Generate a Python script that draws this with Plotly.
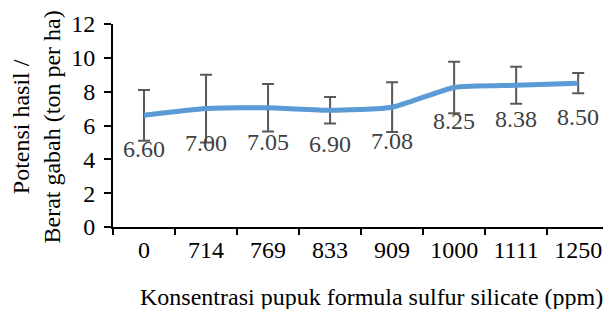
import plotly.graph_objects as go

categories = ["0", "714", "769", "833", "909", "1000", "1111", "1250"]
yield_values = [6.60, 7.00, 7.05, 6.90, 7.08, 8.25, 8.38, 8.50]
error_values = [1.50, 2.00, 1.40, 0.78, 1.47, 1.52, 1.10, 0.60]
value_labels = ["6.60", "7.00", "7.05", "6.90", "7.08", "8.25", "8.38", "8.50"]
y_ticks = [0, 2, 4, 6, 8, 10, 12]

FONT = "Liberation Serif"

fig = go.Figure()
# error bars (drawn first, beneath the line)
fig.add_trace(go.Scatter(
    x=categories, y=yield_values, mode="markers",
    marker=dict(size=0.1, opacity=0),
    error_y=dict(type="data", array=error_values, visible=True,
                 color="#595959", thickness=2, width=6),
    hoverinfo="skip", showlegend=False,
))
fig.add_trace(go.Scatter(
    x=categories, y=yield_values, mode="lines",
    line=dict(color="#5B9BD5", width=5, shape="spline", smoothing=0.5),
    hoverinfo="skip", showlegend=False,
))

for i, (v, t) in enumerate(zip(yield_values, value_labels)):
    fig.add_annotation(x=i, y=v, text=t, showarrow=False, yshift=-34,
                       font=dict(family=FONT, size=24, color="#404040"))

fig.add_annotation(xref="paper", yref="paper", x=0, y=0.5, xshift=-77, yshift=-2,
                   xanchor="center", yanchor="middle", textangle=-90,
                   text="Potensi hasil /<br>Berat gabah (ton per ha)", showarrow=False,
                   font=dict(family=FONT, size=24, color="#000000"))
fig.add_annotation(xref="paper", yref="paper", x=(371 - 113) / 490, y=-(297 - 227) / 203,
                   xanchor="center", yanchor="middle",
                   text="Konsentrasi pupuk formula sulfur silicate (ppm)", showarrow=False,
                   font=dict(family=FONT, size=24, color="#000000"))

fig.update_layout(
    width=603, height=309, autosize=False,
    margin=dict(l=113, r=0, t=24, b=82, autoexpand=False),
    paper_bgcolor="white", plot_bgcolor="white",
    font=dict(family=FONT, size=24, color="#000000"),
    xaxis=dict(type="category", range=[-0.5, 7.4], tickson="boundaries",
               ticks="outside", ticklen=6, tickwidth=2, tickcolor="#000000",
               showline=True, linecolor="#000000", linewidth=2,
               showgrid=False, zeroline=False, automargin=False,
               tickfont=dict(family=FONT, size=24, color="#000000")),
    yaxis=dict(range=[0, 12], tickvals=y_ticks, ticks="outside", ticklen=7,
               tickwidth=2, tickcolor="#000000",
               showline=True, linecolor="#000000", linewidth=2,
               showgrid=False, zeroline=False, ticklabelstandoff=4, automargin=False,
               tickfont=dict(family=FONT, size=24, color="#000000")),
)

fig.write_html("out.html", config={"displayModeBar": False},
               post_script="document.body.style.margin='0';document.body.style.overflow='hidden';")
